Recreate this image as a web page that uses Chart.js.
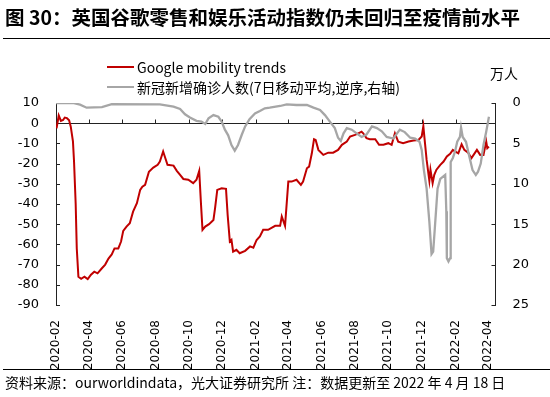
<!DOCTYPE html>
<html><head><meta charset="utf-8">
<script src="https://cdn.jsdelivr.net/npm/chart.js@4/dist/chart.umd.min.js"></script>
<style>
html,body{margin:0;padding:0;background:#fff;}
#wrap{position:relative;width:550px;height:397px;overflow:hidden;font-family:"Noto Sans CJK SC","Noto Sans",sans-serif;color:#000;}
#c{position:absolute;left:0;top:0;}
.t{position:absolute;white-space:nowrap;color:#000;}
#title{left:5px;top:5px;font-size:19.5px;font-weight:bold;line-height:24px;}
#rule1{position:absolute;left:3px;right:0;top:38px;height:1px;background:#000;}
#rule2{position:absolute;left:3px;right:0;top:369px;height:1px;background:#000;}
#foot{left:5px;top:373px;font-size:14px;line-height:18px;}
#unit{left:490px;top:63px;font-size:14px;line-height:20px;}
.lg{position:absolute;left:107px;height:20px;display:flex;align-items:center;font-size:14px;white-space:nowrap;}
.lg i{display:inline-block;width:27px;height:2px;margin-right:3px;}
</style></head><body>
<div id="wrap">
<canvas id="c" width="550" height="397"></canvas>
<div class="t" id="title">图 30：英国谷歌零售和娱乐活动指数仍未回归至疫情前水平</div>
<div id="rule1"></div>
<div id="legend"></div>
<div class="t" id="unit">万人</div>
<div id="rule2"></div>
<div class="t" id="foot">资料来源：ourworldindata，光大证券研究所 注：数据更新至 2022 年 4 月 18 日</div>
</div>
<script>
// Day offsets are counted from this date
const startDate = '2020-02-15';
const xTickLabels = ['2020-02','2020-04','2020-06','2020-08','2020-10','2020-12','2021-02','2021-04','2021-06','2021-08','2021-10','2021-12','2022-02','2022-04'];
const xMaxDay = 804;

const redLabel = 'Google mobility trends';
const redDay = [1,5,9,13,16,20,24,27,31,33,36,38,41,46,52,58,64,70,76,84,90,96,102,107,114,119,123,129,135,141,148,154,158,163,170,178,186,190,193,196,199,204,215,221,227,233,242,251,257,262,265,268,273,280,288,291,295,303,311,314,318,321,324,330,336,346,355,361,367,373,379,388,401,410,413,419,425,431,440,448,452,459,463,468,472,475,480,489,498,507,516,523,532,538,547,553,559,562,568,574,584,591,599,608,614,620,626,635,645,654,663,669,672,675,678,683,685,689,692,696,703,709,715,721,726,730,736,742,747,754,760,770,776,782,787,789,792];
const redValue = [-2.5,3.8,1.1,1.6,2.8,2.5,1.5,-1.7,-9,-19,-40,-62,-76,-77,-76,-77.2,-75,-73.5,-74.3,-71.8,-70,-67,-65,-62,-62,-58.6,-53.3,-51.2,-49.5,-43.8,-39.6,-33,-31.4,-30.5,-24,-22,-20.6,-19,-16.5,-14,-16.5,-20.6,-21,-23.6,-25.6,-27.6,-28,-29.7,-28,-23.6,-38.8,-52.8,-51.2,-50,-47.9,-42,-33,-32.2,-32.5,-45.4,-58.6,-57.8,-63.6,-62.7,-64.4,-63.2,-61,-61.6,-57.8,-56.1,-52.8,-52.8,-50.8,-50.8,-46.2,-50.8,-28.9,-28.9,-28,-30.5,-28.9,-22.3,-21.5,-14.9,-7.9,-8.3,-13.2,-15.7,-14.6,-14.6,-13.2,-10.7,-9.1,-6.6,-5.8,-5,-4.2,-5,-7.4,-7.9,-7.9,-10.7,-10.7,-9.9,-10.7,-5,-9.1,-9.9,-9.1,-8.6,-8.3,-6.6,-1.5,-9.9,-18.2,-28.5,-23,-29.7,-25.6,-23,-20.6,-19,-16.5,-15.2,-13.2,-14,-14.9,-10.4,-13.2,-14.6,-17.3,-13.2,-15.7,-15.7,-9.1,-12.4,-11.6];

const grayLabel = '新冠新增确诊人数(7日移动平均,逆序,右轴)';
const grayDay = [0,31,44,56,84,102,190,215,227,236,245,257,266,273,279,288,297,303,309,315,321,327,333,340,346,354,364,373,382,391,410,422,440,459,471,483,492,501,510,516,521,526,532,541,550,559,568,578,587,596,605,617,629,638,648,657,665,669,673,678,683,687,690,693,698,703,712,714,715,718,721,722,726,730,734,739,741,744,750,756,762,768,772,777,782,787,792];
const grayValue = [0,0,0.2,0.58,0.5,0.15,0.16,0.46,0.74,1.4,1.8,2.2,2.3,2.6,1.9,1.5,1.7,2.3,3.3,4.0,5.2,5.9,5.2,3.9,2.9,2.0,1.3,1.0,0.66,0.58,0.37,0.16,0.25,0.25,0.58,0.87,1.5,2.3,3.1,4.3,4.7,3.75,3.1,3.3,3.75,4.2,3.9,2.9,3.1,3.5,4.2,4.4,3.3,3.6,4.3,4.4,4.8,5.8,8.3,10.6,14.7,18.7,18.4,15.5,10.6,9.4,8.9,13.4,19.2,19.6,19.2,7.3,6.8,6.0,4.8,4.2,3.05,4.2,4.8,6.6,8.3,8.9,8.5,7.5,5.2,3.55,1.7];

const leftMin = -90, leftMax = 10, leftStep = 10;
const rightMin = 0, rightMax = 25, rightStep = 5;

const RED = '#C00000', GRAY = '#A6A6A6';

function dayOf(s){
  const a = new Date(startDate + 'T00:00:00Z'), b = new Date(s + 'T00:00:00Z');
  return Math.round((b - a) / 86400000);
}
const xTickDays = xTickLabels.map(l => dayOf(l + '-15'));

const datasets = [
  {label: redLabel, data: redDay.map((d,i)=>({x:d, y:redValue[i]})), yAxisID:'yL',
   borderColor: RED, backgroundColor: RED, borderWidth: 2, pointRadius: 0, tension: 0, order: 1},
  {label: grayLabel, data: grayDay.map((d,i)=>({x:d, y:grayValue[i]})), yAxisID:'yR',
   borderColor: GRAY, backgroundColor: GRAY, borderWidth: 2.3, pointRadius: 0, tension: 0, order: 0}
];

const axisDeco = {
  id: 'axisDeco',
  beforeDatasetsDraw(chart){
    const {ctx, chartArea:a, scales} = chart;
    const x = scales.x, yL = scales.yL, yR = scales.yR;
    const y0 = Math.round(yL.getPixelForValue(0)) + 0.5;
    ctx.save();
    ctx.strokeStyle = '#222';
    ctx.lineWidth = 1;
    ctx.beginPath();
    ctx.moveTo(a.left, y0); ctx.lineTo(a.right, y0);
    x.ticks.forEach(t => {
      const px = Math.round(x.getPixelForValue(t.value)) + 0.5;
      ctx.moveTo(px, y0); ctx.lineTo(px, y0 - 4);
    });
    yL.ticks.forEach(t => {
      const py = Math.round(yL.getPixelForValue(t.value)) + 0.5;
      ctx.moveTo(a.left, py); ctx.lineTo(a.left + 4, py);
    });
    yR.ticks.forEach(t => {
      const py = Math.round(yR.getPixelForValue(t.value)) + 0.5;
      ctx.moveTo(a.right, py); ctx.lineTo(a.right - 4, py);
    });
    ctx.stroke();
    ctx.restore();
  }
};

const tickFont = {family: '"DejaVu Sans", sans-serif', size: 13};

new Chart(document.getElementById('c'), {
  type: 'line',
  data: {datasets},
  plugins: [axisDeco],
  options: {
    responsive: false, animation: false, devicePixelRatio: 1,
    layout: {padding: {top: 103, bottom: 0, left: 0, right: 0}},
    plugins: {legend: {display: false}, tooltip: {enabled: false}},
    scales: {
      x: {type: 'linear', position: 'bottom', min: 0, max: xMaxDay,
          grid: {display: false}, border: {display: false},
          afterBuildTicks: s => { s.ticks = xTickDays.map(v => ({value: v})); },
          afterFit: s => { s.height = 92; },
          ticks: {autoSkip: false, minRotation: 90, maxRotation: 90, padding: 7, color: '#000',
                  font: {family: '"DejaVu Sans", sans-serif', size: 12},
                  callback: (v, i) => xTickLabels[i]}},
      yL: {type: 'linear', position: 'left', min: leftMin, max: leftMax,
           grid: {display: false}, border: {display: true, color: '#222', width: 1},
           afterFit: s => { s.width = 56; },
           ticks: {stepSize: leftStep, padding: 9, color: '#000', font: tickFont}},
      yR: {type: 'linear', position: 'right', min: rightMin, max: rightMax, reverse: true,
           grid: {display: false}, border: {display: true, color: '#222', width: 1},
           afterFit: s => { s.width = 54.5; },
           ticks: {stepSize: rightStep, padding: 9, color: '#000', font: tickFont}}
    }
  }
});

// HTML legend built from the datasets
const lg = document.getElementById('legend');
datasets.forEach((ds, i) => {
  const row = document.createElement('div');
  row.className = 'lg';
  row.style.top = (57 + i * 20) + 'px';
  const sw = document.createElement('i');
  sw.style.background = ds.borderColor;
  row.appendChild(sw);
  const tx = document.createElement('span');
  tx.textContent = ds.label;
  row.appendChild(tx);
  lg.appendChild(row);
});
</script>
</body></html>
